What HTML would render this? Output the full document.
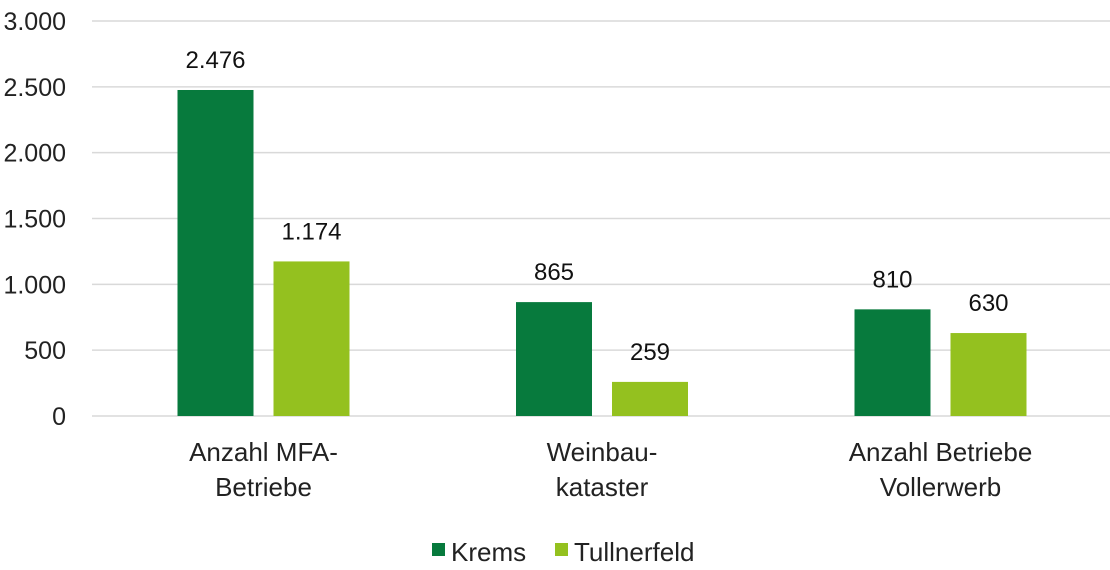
<!DOCTYPE html>
<html><head><meta charset="utf-8">
<style>
html,body{margin:0;padding:0;background:#fff;}
svg{display:block;font-family:"Liberation Sans Narrow","Liberation Sans",sans-serif;}
</style></head>
<body>
<svg id="chart" width="1110" height="570" viewBox="0 0 1110 570"></svg>
<script>
const categories = [["Anzahl MFA-","Betriebe"],["Weinbau-","kataster"],["Anzahl Betriebe","Vollerwerb"]];
const kremsValues = [2476, 865, 810];
const tullnValues = [1174, 259, 630];
const kremsLabels = ["2.476","865","810"];
const tullnLabels = ["1.174","259","630"];
const yTicks = [0,500,1000,1500,2000,2500,3000];
const yTickLabels = ["0","500","1.000","1.500","2.000","2.500","3.000"];

const NS = "http://www.w3.org/2000/svg";
const svg = document.getElementById("chart");
const plotL = 92, plotR = 1110, y0 = 416, y3000 = 21;
const yScale = v => y0 - (v/3000)*(y0-y3000);
const groupW = 338.5;
const xGroup = i => 263.5 + groupW*i;
const barW = 76, gap = 20;
const cK = "#077a3d", cT = "#94c11f";

function mk(tag, attrs, text){
  const e = document.createElementNS(NS, tag);
  for (const k in attrs) e.setAttribute(k, attrs[k]);
  if (text !== undefined) e.textContent = text;
  svg.appendChild(e);
  return e;
}

yTicks.forEach((t,i)=>{
  const y = yScale(t);
  const g = mk("line",{x1:plotL,x2:plotR,y1:y,y2:y,stroke:"#d9d9d9","stroke-width":1.5});
  
  
  const l = mk("text",{x:66,y:y+9,"text-anchor":"end","font-size":25,fill:"#222"}, yTickLabels[i]);
  
  
});

categories.forEach((c,i)=>{
  const cx = xGroup(i);
  const xk = cx - gap/2 - barW, xt = cx + gap/2;
  const bk = mk("rect",{x:xk,y:yScale(kremsValues[i]),width:barW,height:y0-yScale(kremsValues[i]),fill:cK});
  
  
  const bt = mk("rect",{x:xt,y:yScale(tullnValues[i]),width:barW,height:y0-yScale(tullnValues[i]),fill:cT});
  
  
  const lk = mk("text",{x:xk+barW/2,y:yScale(kremsValues[i])-22,"text-anchor":"middle","font-size":24,fill:"#111"}, kremsLabels[i]);
  
  
  const lt = mk("text",{x:xt+barW/2,y:yScale(tullnValues[i])-22,"text-anchor":"middle","font-size":24,fill:"#111"}, tullnLabels[i]);
  
  
  c.forEach((line,j)=>{
    const t = mk("text",{x:cx,y:461+j*35,"text-anchor":"middle","font-size":26,fill:"#222"}, line);
    
    
  });
});

const s1 = mk("rect",{x:432,y:543,width:13,height:13,fill:cK});


const t1 = mk("text",{x:451,y:561,"font-size":26,fill:"#222"},"Krems");


const s2 = mk("rect",{x:555,y:543,width:13,height:13,fill:cT});


const t2 = mk("text",{x:574,y:561,"font-size":26,fill:"#222"},"Tullnerfeld");


</script>
</body></html>
